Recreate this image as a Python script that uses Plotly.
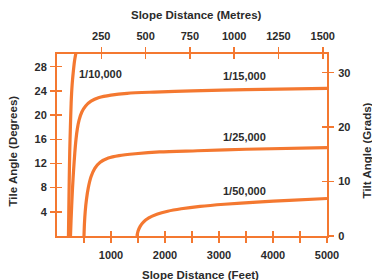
import plotly.graph_objects as go

ORANGE = "#F47830"
TXT = "#2b2b2b"
FONT = "Liberation Sans"

# ---- data (slope distance in feet, tilt angle in degrees) ----
s10_ft = [212, 218, 226, 236, 248, 262, 280, 300, 325, 355, 375]
s10_deg = [0, 4, 9, 14, 18, 22, 25, 27, 29, 30.5, 31.5]

s15_ft = [250, 260, 272, 288, 308, 330, 352, 378, 410, 460, 530, 630, 780, 1000, 1300, 1800, 2500, 3500, 5000]
s15_deg = [0, 2.5, 5, 8, 11, 13.8, 16, 17.8, 19.2, 20.5, 21.5, 22.3, 22.9, 23.3, 23.6, 23.8, 24.0, 24.2, 24.4]

s25_ft = [500, 508, 522, 545, 580, 630, 700, 800, 950, 1150, 1450, 1900, 2600, 3500, 5000]
s25_deg = [0, 2, 4, 6, 8, 9.8, 11.2, 12.2, 12.9, 13.3, 13.6, 13.9, 14.1, 14.35, 14.6]

s50_ft = [1480, 1500, 1540, 1600, 1700, 1850, 2050, 2300, 2650, 3100, 3700, 4300, 5000]
s50_deg = [0, 0.8, 1.6, 2.3, 3.0, 3.6, 4.1, 4.5, 4.9, 5.25, 5.6, 5.9, 6.2]

curve_names = ["1/10,000", "1/15,000", "1/25,000", "1/50,000"]
label_ft = [800, 3480, 3480, 3480]
label_deg = [26.8, 26.4, 16.4, 7.4]

feet_ticks = [500, 1000, 1500, 2000, 2500, 3000, 3500, 4000, 4500, 5000]
feet_text = ["", "1000", "", "2000", "", "3000", "", "4000", "", "5000"]
metre_ticks = [250, 500, 750, 1000, 1250, 1500]
deg_ticks = [4, 8, 12, 16, 20, 24, 28]
grad_ticks = [0, 10, 20, 30]

X_MAX_FT = 5000
Y_MAX_DEG = 30.1
FT_TO_M = 0.3048
DEG_TO_GRAD = 1 / 0.9

fig = go.Figure()
for xs, ys, nm in zip([s10_ft, s15_ft, s25_ft, s50_ft], [s10_deg, s15_deg, s25_deg, s50_deg], curve_names):
    fig.add_trace(go.Scatter(x=xs, y=ys, mode="lines", name=nm,
                             line=dict(color=ORANGE, width=3.2, shape="spline", smoothing=0.8),
                             showlegend=False, hoverinfo="skip"))

for nm, lx, ly in zip(curve_names, label_ft, label_deg):
    fig.add_annotation(x=lx, y=ly, xref="x", yref="y", text=nm, showarrow=False,
                       xanchor="center", yanchor="middle",
                       font=dict(family=FONT, size=11, color=TXT, weight="bold"))

tickfont = dict(family=FONT, size=11, color=TXT, weight="bold")
common = dict(showgrid=False, zeroline=False, showline=True, linecolor=ORANGE, linewidth=2,
              tickcolor=ORANGE, tickwidth=1.5, ticklen=5, tickfont=tickfont, automargin=False)

inner = dict(ticks="inside", showticklabels=False, showgrid=False, zeroline=False, showline=False,
             tickcolor=ORANGE, tickwidth=1.5, ticklen=5, automargin=False)

fig.update_layout(
    width=372, height=280,
    margin=dict(l=57, r=45, t=54, b=44, autoexpand=False),
    paper_bgcolor="white", plot_bgcolor="white",
    xaxis=dict(range=[0, X_MAX_FT], tickvals=feet_ticks, ticktext=feet_text, ticks="outside",
               ticklabelstandoff=3, **common),
    xaxis2=dict(range=[0, X_MAX_FT * FT_TO_M], tickvals=metre_ticks, ticks="outside", side="top",
                overlaying="x", anchor="y", ticklabelstandoff=3, **common),
    yaxis=dict(range=[0, Y_MAX_DEG], tickvals=deg_ticks, ticks="outside", ticklabelstandoff=1, **common),
    yaxis2=dict(range=[0, Y_MAX_DEG * DEG_TO_GRAD], tickvals=grad_ticks, ticks="outside", side="right",
                overlaying="y", anchor="x", ticklabelstandoff=2, **common),
    # inner halves of the crossing ticks
    xaxis3=dict(range=[0, X_MAX_FT], tickvals=feet_ticks, overlaying="x", anchor="y", **inner),
    xaxis4=dict(range=[0, X_MAX_FT * FT_TO_M], tickvals=metre_ticks, overlaying="x", anchor="y",
                side="top", **inner),
    yaxis3=dict(range=[0, Y_MAX_DEG], tickvals=deg_ticks, overlaying="y", anchor="x", **inner),
    yaxis4=dict(range=[0, Y_MAX_DEG * DEG_TO_GRAD], tickvals=grad_ticks, overlaying="y", anchor="x",
                side="right", **inner),
)

# invisible traces so the overlay axes render
for xa, ya in [("x2", "y2"), ("x3", "y3"), ("x4", "y4")]:
    fig.add_trace(go.Scatter(x=[None], y=[None], xaxis=xa, yaxis=ya, showlegend=False, hoverinfo="skip"))

titlefont = dict(family=FONT, size=11.5, color=TXT, weight="bold")
for txt, px, py, ang in [("Slope Distance (Metres)", 0.515, 1.214, 0),
                         ("Slope Distance (Feet)", 0.53, -0.215, 0),
                         ("Tile Angle (Degrees)", -0.163, 0.47, -90),
                         ("Tilt Angle (Grads)", 1.148, 0.47, -90)]:
    fig.add_annotation(text=txt, xref="paper", yref="paper", x=px, y=py, xanchor="center",
                       yanchor="middle", showarrow=False, textangle=ang, font=titlefont)

fig.write_html("out.html", config={"displayModeBar": False, "staticPlot": True})

# remove the default 8px body margin so the figure sits at the window origin
with open("out.html", encoding="utf-8") as f:
    html = f.read()
html = html.replace("<head>", "<head><style>html,body{margin:0;padding:0;overflow:hidden}</style>", 1)
with open("out.html", "w", encoding="utf-8") as f:
    f.write(html)
